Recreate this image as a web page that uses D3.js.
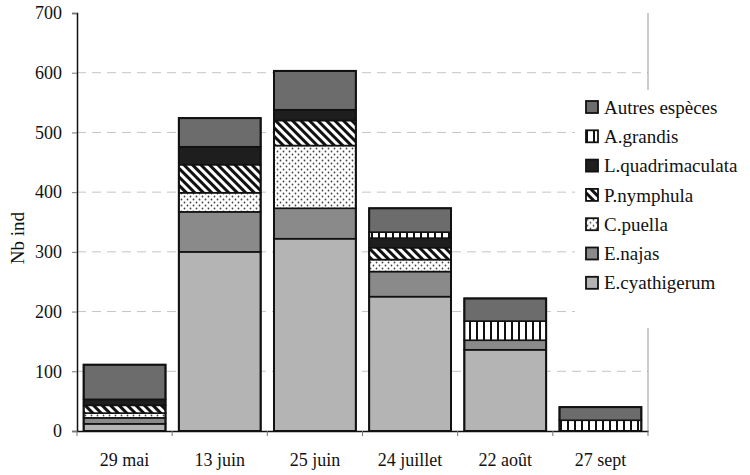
<!DOCTYPE html>
<html>
<head>
<meta charset="utf-8">
<script src="https://cdn.jsdelivr.net/npm/d3@7"></script>
<style>
  body { margin: 0; background: #fff; }
  svg text { font-family: "Liberation Serif", "DejaVu Serif", serif; }
</style>
</head>
<body>
<div id="chart"></div>
<script>
(function () {

  // Data
  const dates = ["29 mai", "13 juin", "25 juin", "24 juillet", "22 août", "27 sept"]
  const species = ["E.cyathigerum", "E.najas", "C.puella", "P.nymphula", "L.quadrimaculata", "A.grandis", "Autres espèces"]
  const eCyathigerum    = [12, 300, 322, 225, 136, 0]
  const eNajas          = [10,  67,  51,  42,  16, 0]
  const cPuella         = [ 8,  32, 105,  20,   0, 0]
  const pNymphula       = [13,  47,  42,  20,   0, 0]
  const lQuadrimaculata = [10,  30,  18,  16,   0, 0]
  const aGrandis        = [ 0,   0,   0,  10,  32, 18]
  const autres          = [58,  48,  65,  40,  38, 22]
  const yTicks = [0, 100, 200, 300, 400, 500, 600, 700]

  const seriesValues = [eCyathigerum, eNajas, cPuella, pNymphula, lQuadrimaculata, aGrandis, autres]
  const table = dates.map((d, i) => {
    const row = { date: d }
    species.forEach((s, j) => { row[s] = seriesValues[j][i] })
    return row
  })

  const W = 750, H = 475
  const svg = d3.select("#chart").append("svg")
      .attr("width", W)
      .attr("height", H)

  // Patterns
  const defs = svg.append("defs")

  const dots = defs.append("pattern").attr("id", "dots")
      .attr("patternUnits", "userSpaceOnUse").attr("width", 6).attr("height", 6)
  dots.append("rect").attr("width", 6).attr("height", 6).attr("fill", "#fff")
  dots.append("circle").attr("cx", 1.5).attr("cy", 1.5).attr("r", 0.9).attr("fill", "#444")
  dots.append("circle").attr("cx", 4.5).attr("cy", 4.5).attr("r", 0.9).attr("fill", "#444")

  const hatch = defs.append("pattern").attr("id", "hatch")
      .attr("patternUnits", "userSpaceOnUse").attr("width", 6).attr("height", 6)
      .attr("patternTransform", "rotate(-45)")
  hatch.append("rect").attr("width", 6).attr("height", 6).attr("fill", "#fff")
  hatch.append("rect").attr("width", 3).attr("height", 6).attr("fill", "#111")

  const vstripes = defs.append("pattern").attr("id", "vstripes")
      .attr("patternUnits", "userSpaceOnUse").attr("width", 7).attr("height", 7)
  vstripes.append("rect").attr("width", 7).attr("height", 7).attr("fill", "#fff")
  vstripes.append("rect").attr("width", 2).attr("height", 7).attr("fill", "#111")

  const fillScale = d3.scaleOrdinal()
    .domain(species)
    .range(["#b4b4b4", "#8a8a8a", "url(#dots)", "url(#hatch)", "#1e1e1e", "url(#vstripes)", "#6c6c6c"])

  // Scales
  const x = d3.scaleBand()
    .domain(dates)
    .range([77, 648])
    .paddingInner(0.14)
    .paddingOuter(0.07)

  const y = d3.scaleLinear()
    .domain([0, 700])
    .range([431, 13])

  // Gridlines
  svg.append("g")
    .selectAll("line")
    .data(yTicks.filter(t => t > 0 && t < 700))
    .join("line")
      .attr("x1", 77).attr("x2", 648)
      .attr("y1", d => y(d)).attr("y2", d => y(d))
      .attr("stroke", "#c4c4c4")
      .attr("stroke-width", 1)
      .attr("stroke-dasharray", "9,6")

  // Right border of plot
  svg.append("line")
    .attr("x1", 648).attr("x2", 648)
    .attr("y1", y(700)).attr("y2", y(0))
    .attr("stroke", "#999").attr("stroke-width", 1)

  // Bars
  const stacked = d3.stack().keys(species)(table)

  svg.append("g")
    .selectAll("g")
    .data(stacked)
    .join("g")
      .attr("fill", d => fillScale(d.key))
    .selectAll("rect")
    .data(d => d.filter(p => p[1] - p[0] > 0))
    .join("rect")
      .attr("x", d => x(d.data.date))
      .attr("width", x.bandwidth())
      .attr("y", d => y(d[1]))
      .attr("height", d => y(d[0]) - y(d[1]))
      .attr("stroke", "#111")
      .attr("stroke-width", 1.6)

  // Outline of whole bar
  svg.append("g")
    .selectAll("rect")
    .data(table)
    .join("rect")
      .attr("x", d => x(d.date))
      .attr("width", x.bandwidth())
      .attr("y", d => y(d3.sum(species, s => d[s])))
      .attr("height", d => y(0) - y(d3.sum(species, s => d[s])))
      .attr("fill", "none")
      .attr("stroke", "#111")
      .attr("stroke-width", 2)

  // Y axis
  const yAxis = svg.append("g")
    .attr("transform", "translate(77,0)")
    .call(d3.axisLeft(y).tickValues(yTicks).tickSize(5).tickPadding(10))
  yAxis.select(".domain").attr("stroke", "#111").attr("stroke-width", 1.5)
  yAxis.selectAll(".tick line").attr("stroke", "#777")
  yAxis.selectAll("text").attr("font-size", 18).attr("fill", "#111")

  // X axis
  const xAxis = svg.append("g")
    .attr("transform", "translate(0,431)")
    .call(d3.axisBottom(x).tickSize(0).tickPadding(22))
  xAxis.select(".domain").attr("stroke", "#111").attr("stroke-width", 1.5)
  xAxis.selectAll("text").attr("font-size", 18).attr("fill", "#111")

  // x ticks at band boundaries
  svg.append("g")
    .selectAll("line")
    .data(d3.range(dates.length + 1))
    .join("line")
      .attr("x1", i => 77 + x.step() * i)
      .attr("x2", i => 77 + x.step() * i)
      .attr("y1", 431).attr("y2", 436)
      .attr("stroke", "#777")

  // Y label
  svg.append("text")
    .attr("transform", "translate(24," + y(323) + ") rotate(-90)")
    .attr("text-anchor", "middle")
    .attr("font-size", 19)
    .attr("fill", "#111")
    .text("Nb ind")

  // Legend
  const legend = svg.append("g")
  legend.append("rect")
    .attr("x", 575).attr("y", 90)
    .attr("width", 175).attr("height", 238)
    .attr("fill", "#fff")

  const legendItems = species.slice().reverse()
  const item = legend.selectAll("g.item")
    .data(legendItems)
    .join("g")
      .attr("class", "item")
      .attr("transform", (d, i) => "translate(586," + (107 + i * 29.3) + ")")

  item.append("rect")
    .attr("x", 0).attr("y", -6)
    .attr("width", 12).attr("height", 12)
    .attr("fill", d => fillScale(d))
    .attr("stroke", "#111")
    .attr("stroke-width", 1.8)

  item.append("text")
    .attr("x", 18)
    .attr("dy", "0.35em")
    .attr("font-size", 19)
    .attr("fill", "#111")
    .text(d => d)

})();
</script>
</body>
</html>
